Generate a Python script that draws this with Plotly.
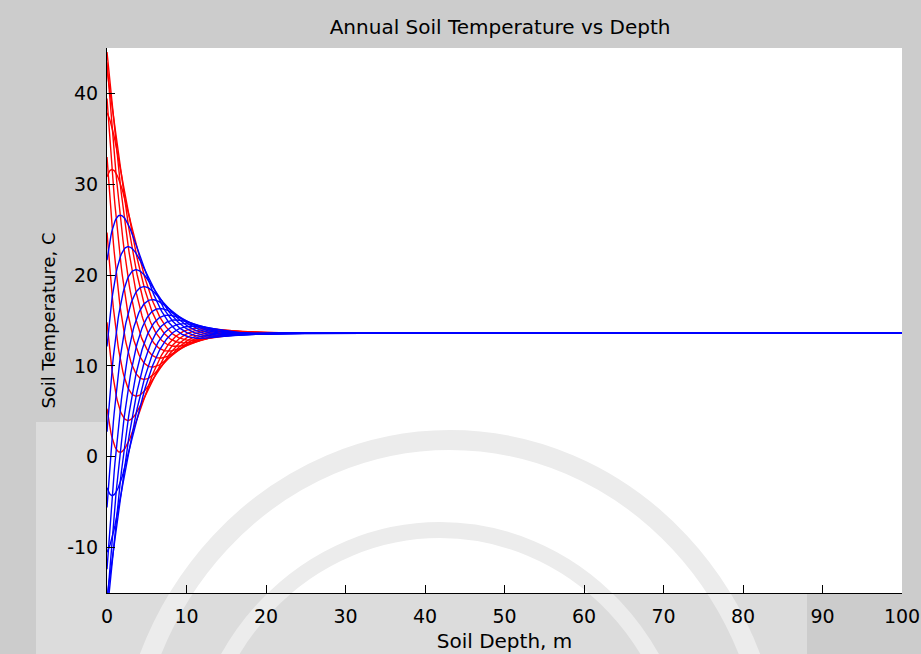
import numpy as np
import plotly.graph_objects as go

# ---- values ----
mean_temp_c = 13.6            # level of the flat line at depth
surface_amplitude_c = 31.0    # half of the surface swing
damping_depth_m = 3.2         # e-folding depth of the swing
peak_day = 107                # day of the year with the warmest surface
curve_days = [0, 18, 37, 55, 73, 91, 110, 128, 146, 164,
              183, 201, 219, 237, 256, 274, 292, 310, 329, 347]
curve_colours = ["#ff0000"] * 10 + ["#0000ff"] * 10
depth_m = np.arange(0.0, 100.0001, 0.1)

x_ticks = [0, 10, 20, 30, 40, 50, 60, 70, 80, 90, 100]
y_ticks = [-10, 0, 10, 20, 30, 40]
y_tick_labels = ["-10", "0", "10", "20", "30", "40"]

fig = go.Figure()
u = depth_m / damping_depth_m
for day, col in zip(curve_days, curve_colours):
    phase = 2 * np.pi * (day - peak_day) / 365.0
    temp = mean_temp_c + surface_amplitude_c * np.exp(-u) * np.cos(phase - u)
    fig.add_trace(go.Scatter(x=depth_m, y=temp, mode="lines",
                             line=dict(color=col, width=1.4),
                             hoverinfo="skip", showlegend=False))

font_family = "DejaVu Sans"
axis_common = dict(showline=True, linecolor="black", linewidth=1,
                   ticks="inside", ticklen=8, tickcolor="black", tickwidth=1,
                   showgrid=False, zeroline=False, mirror=False, automargin=False,
                   tickfont=dict(family=font_family, size=19, color="black"))

# plot-area box in pixels: left 107, right 902, top 48, bottom 593
def px(x):
    return (x - 107) / 795.0

def py(y):
    return (593 - y) / 545.0

watermark = [
    dict(type="rect", xref="paper", yref="paper", layer="below",
         x0=px(36), x1=px(107), y0=py(654), y1=py(422),
         fillcolor="#dcdcdc", line=dict(width=0)),
    dict(type="rect", xref="paper", yref="paper", layer="below",
         x0=px(36), x1=px(807), y0=py(654), y1=py(593),
         fillcolor="#dcdcdc", line=dict(width=0)),
    dict(type="circle", xref="paper", yref="paper", layer="below",
         x0=px(450 - 325), x1=px(450 + 325), y0=py(790 + 350), y1=py(790 - 350),
         line=dict(color="#ececec", width=20), fillcolor="rgba(0,0,0,0)"),
    dict(type="circle", xref="paper", yref="paper", layer="below",
         x0=px(440 - 246), x1=px(440 + 246), y0=py(790 + 260), y1=py(790 - 260),
         line=dict(color="#ececec", width=16), fillcolor="rgba(0,0,0,0)"),
]

fig.update_layout(
    width=921, height=654,
    margin=dict(l=107, r=19, t=48, b=61, autoexpand=False),
    paper_bgcolor="#cccccc", plot_bgcolor="white",
    title=dict(text="Annual Soil Temperature vs Depth", x=0.543, xanchor="center",
               y=1 - 27 / 654, yanchor="middle",
               font=dict(family=font_family, size=20, color="black")),
    xaxis=dict(range=[0, 100], tickvals=x_ticks, ticklabelstandoff=6,
               title=dict(text="Soil Depth, m", standoff=8,
                          font=dict(family=font_family, size=20, color="black")),
               **axis_common),
    yaxis=dict(range=[-15, 45], tickvals=y_ticks, ticktext=y_tick_labels,
               title=dict(text="Soil Temperature, C", standoff=6,
                          font=dict(family=font_family, size=18, color="black")),
               ticklabelstandoff=4,
               **axis_common),
    shapes=watermark,
)

fig.write_html("out.html", config={"displayModeBar": False},
               post_script="document.body.style.margin='0';")
